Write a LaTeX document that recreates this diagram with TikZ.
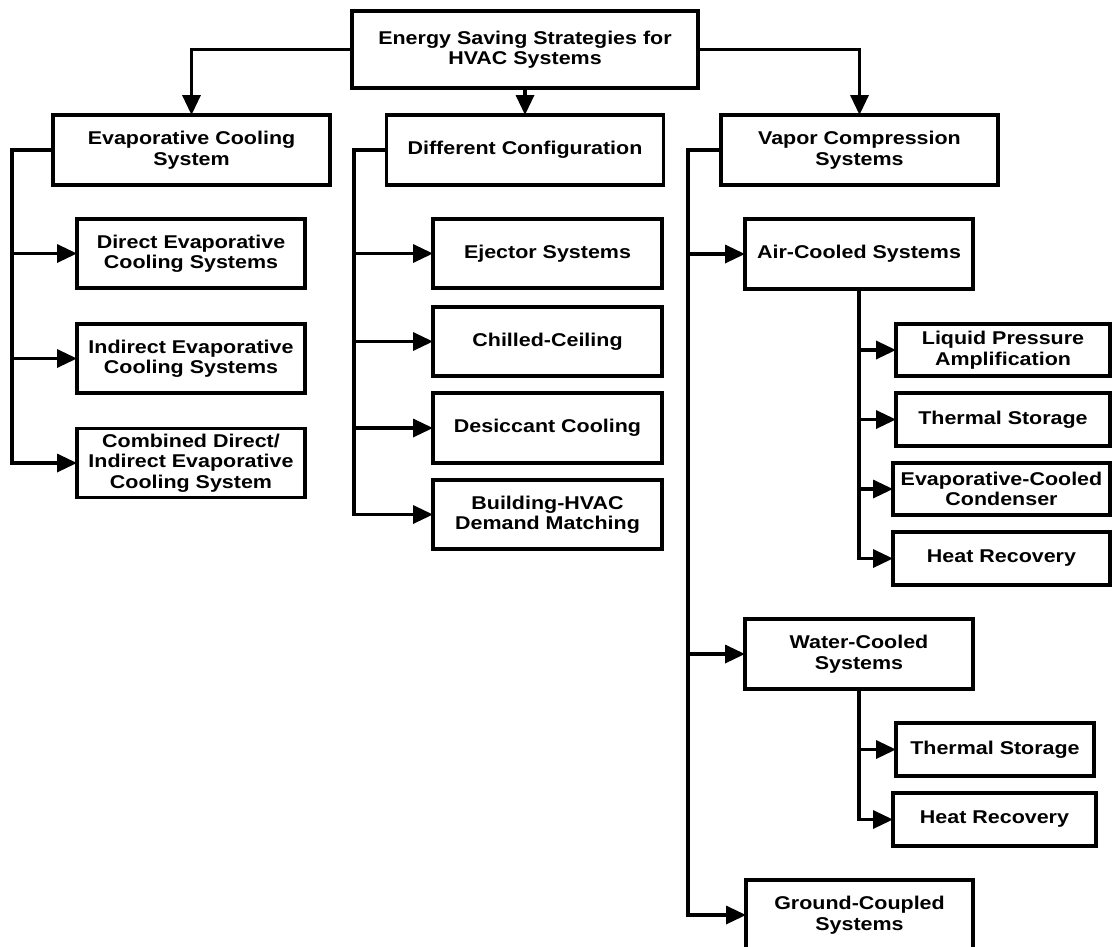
\documentclass[tikz,border=0pt]{standalone}
\usepackage{fontspec}
\setmainfont{Liberation Sans}[FakeStretch=1.16]
\usetikzlibrary{arrows.meta}
\begin{document}
\begin{tikzpicture}[x=1pt,y=-1pt,
  box/.style={draw, line width=3.4pt, inner sep=0pt, outer sep=0pt, align=center,
    font=\fontsize{18.5}{20.5}\selectfont\bfseries},
  topbox/.style={box, minimum width=346pt, minimum height=77pt},
  bigbox/.style={box, minimum width=277pt, minimum height=70pt},
  subbox/.style={box, minimum width=228pt, minimum height=69pt},
  rbox/.style={box, minimum width=215pt, minimum height=52pt},
  arr/.style={line width=3.4pt, -{Triangle[length=20pt,width=18pt]}}]
\useasboundingbox (0,0) rectangle (1113,946);

% top
\node[topbox] (root) at (525,49.5) {Energy Saving Strategies for\\HVAC Systems};

% level 1
\node[bigbox] (ec) at (191.5,150) {Evaporative Cooling\\System};
\node[bigbox] (dc) at (525,150) {Different Configuration};
\node[bigbox] (vc) at (859.5,150) {Vapor Compression\\Systems};

% evaporative column
\node[subbox] (direct) at (191,253.5) {Direct Evaporative\\Cooling Systems};
\node[subbox] (indirect) at (191,358.5) {Indirect Evaporative\\Cooling Systems};
\node[subbox] (combined) at (191,463) {Combined Direct/\\Indirect Evaporative\\Cooling System};

% configuration column
\node[subbox, minimum width=229pt] (ejector) at (547.5,253.5) {Ejector Systems};
\node[subbox, minimum width=229pt] (chilled) at (547.5,341.5) {Chilled-Ceiling};
\node[subbox, minimum width=229pt, minimum height=70pt] (desiccant) at (547.5,428) {Desiccant Cooling};
\node[subbox, minimum width=229pt] (building) at (547.5,514.5) {Building-HVAC\\Demand Matching};

% vapor compression column
\node[bigbox, minimum width=228pt] (ac) at (859,254) {Air-Cooled Systems};
\node[bigbox, minimum width=228pt] (wc) at (859,654) {Water-Cooled\\Systems};
\node[bigbox, minimum width=227pt] (gc) at (859.5,915) {Ground-Coupled\\Systems};

\node[rbox, minimum width=214pt] (lpa) at (1003,350) {Liquid Pressure\\Amplification};
\node[rbox, minimum width=214pt, minimum height=53pt] (ts1) at (1003,419.5) {Thermal Storage};
\node[rbox, minimum width=217pt] (ecc) at (1001.5,489) {Evaporative-Cooled\\Condenser};
\node[rbox, minimum width=217pt, minimum height=53pt] (hr1) at (1001.5,558.5) {Heat Recovery};

\node[rbox, minimum width=198pt, minimum height=53pt] (ts2) at (995,749.5) {Thermal Storage};
\node[rbox, minimum width=203pt, minimum height=53pt] (hr2) at (994.5,819.5) {Heat Recovery};

% bus coordinates
\coordinate (ecbus) at (12,150);
\coordinate (dcbus) at (354,150);
\coordinate (vcbus) at (688,150);

% top connectors
\draw[arr] (root.west) -| (ec.north);
\draw[arr] (root.south) -- (dc.north);
\draw[arr] (root.east) -| (vc.north);

% evaporative
\draw[arr] (ec.west) -- (ecbus) |- (combined.west);
\draw[arr] (ecbus |- direct.west) -- (direct.west);
\draw[arr] (ecbus |- indirect.west) -- (indirect.west);

% configuration
\draw[arr] (dc.west) -- (dcbus) |- (building.west);
\draw[arr] (dcbus |- ejector.west) -- (ejector.west);
\draw[arr] (dcbus |- chilled.west) -- (chilled.west);
\draw[arr] (dcbus |- desiccant.west) -- (desiccant.west);

% vapor compression
\draw[arr] (vc.west) -- (vcbus) |- (gc.west);
\draw[arr] (vcbus |- ac.west) -- (ac.west);
\draw[arr] (vcbus |- wc.west) -- (wc.west);

% air-cooled
\draw[arr] (ac.south) |- (hr1.west);
\draw[arr] (ac.south |- lpa.west) -- (lpa.west);
\draw[arr] (ac.south |- ts1.west) -- (ts1.west);
\draw[arr] (ac.south |- ecc.west) -- (ecc.west);

% water-cooled
\draw[arr] (wc.south) |- (hr2.west);
\draw[arr] (wc.south |- ts2.west) -- (ts2.west);
\end{tikzpicture}
\end{document}
